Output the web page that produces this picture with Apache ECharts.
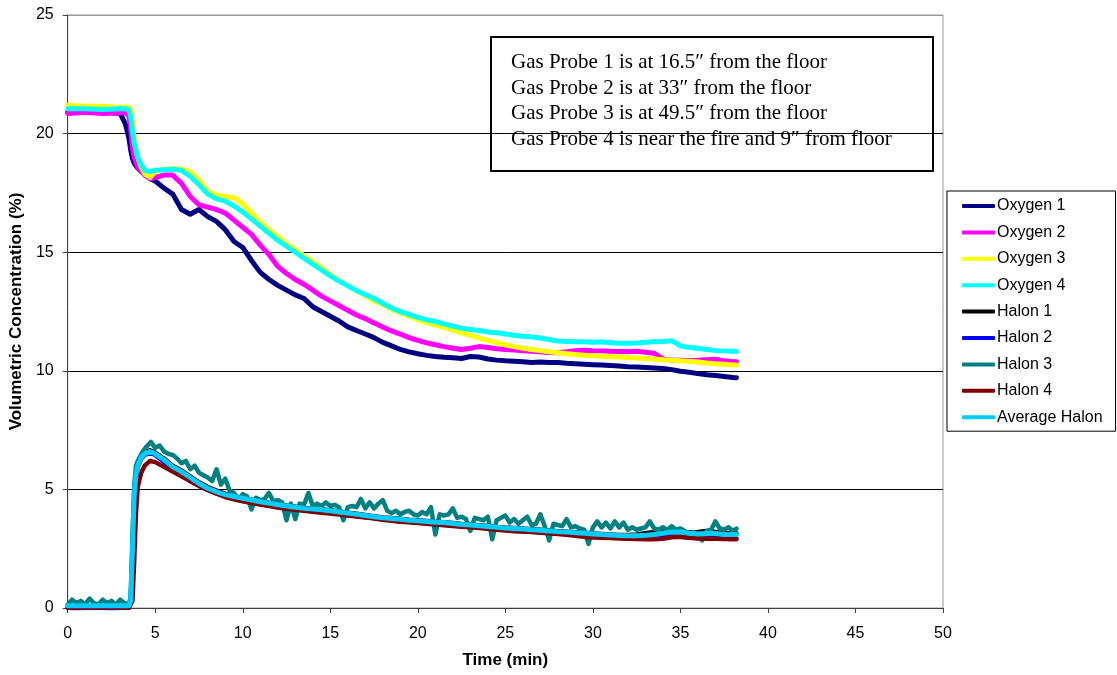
<!DOCTYPE html>
<html>
<head>
<meta charset="utf-8">
<script src="https://cdn.jsdelivr.net/npm/echarts@6/dist/echarts.min.js"></script>
<style>
html,body{margin:0;padding:0;background:#fff;}
#chart{width:1117px;height:675px;}
</style>
</head>
<body>
<div id="chart"></div>
<script>
// ---- Data (time in minutes, concentration in %) ----
var tOxygen = [0,1,2,3,3.3,3.5,3.6,3.7,3.8,4.0,4.2,4.4,4.7,
  5,5.5,6,6.5,7,7.5,8,8.5,9,9.5,10,10.5,11,11.5,12,12.5,13,13.5,14,14.5,
  15,15.5,16,16.5,17,17.5,18,18.5,19,19.5,20,20.5,21,21.5,22,22.5,23,23.5,24,24.5,
  25,25.5,26,26.5,27,27.5,28,28.5,29,29.5,30,30.5,31,31.5,32,32.5,33,33.5,34,34.5,
  35,35.5,36,36.5,37,37.5,38,38.2];

var oxygen1 = [20.9,20.9,20.92,20.85,20.4,19.8,19.3,18.95,18.75,18.55,18.4,18.3,18.1,
  18.0,17.7,17.45,16.8,16.6,16.8,16.5,16.3,15.95,15.45,15.2,14.65,14.15,13.85,13.6,13.4,13.2,13.05,12.7,12.5,
  12.3,12.1,11.85,11.7,11.55,11.4,11.2,11.05,10.9,10.8,10.72,10.65,10.6,10.57,10.55,10.52,10.6,10.58,10.5,10.45,
  10.42,10.4,10.38,10.35,10.37,10.35,10.35,10.32,10.3,10.28,10.26,10.24,10.22,10.2,10.17,10.16,10.14,10.12,10.1,10.05,
  9.98,9.94,9.88,9.83,9.8,9.76,9.72,9.71];

var oxygen2 = [20.85,20.9,20.85,20.88,20.88,20.75,20.2,19.4,19.0,18.6,18.4,18.25,18.1,
  18.15,18.25,18.25,17.9,17.35,17.0,16.9,16.8,16.65,16.35,16.05,15.75,15.3,14.9,14.4,14.1,13.85,13.65,13.4,13.15,
  12.95,12.75,12.55,12.35,12.2,12.02,11.85,11.68,11.55,11.4,11.28,11.18,11.1,11.02,10.95,10.9,10.95,11.02,10.98,10.93,
  10.9,10.88,10.85,10.82,10.8,10.77,10.76,10.8,10.85,10.87,10.85,10.84,10.82,10.81,10.8,10.82,10.78,10.74,10.5,10.45,
  10.44,10.43,10.44,10.47,10.49,10.42,10.38,10.38];

var oxygen3 = [21.2,21.15,21.15,21.1,21.12,21.1,21.0,20.5,19.8,19.0,18.6,18.3,18.15,
  18.4,18.5,18.52,18.5,18.4,18.05,17.55,17.4,17.35,17.3,17.05,16.65,16.25,15.95,15.65,15.35,15.1,14.85,14.6,14.35,
  14.05,13.8,13.6,13.38,13.17,12.95,12.8,12.6,12.45,12.3,12.15,12.03,11.93,11.83,11.72,11.6,11.5,11.38,11.28,11.18,
  11.1,11.02,10.95,10.9,10.85,10.8,10.76,10.72,10.69,10.66,10.63,10.61,10.6,10.58,10.56,10.54,10.52,10.5,10.47,10.44,
  10.42,10.4,10.37,10.33,10.3,10.28,10.25,10.24];

var oxygen4 = [21.05,21.05,21.02,21.05,21.05,21.0,20.7,20.1,19.6,19.0,18.7,18.45,18.4,
  18.45,18.48,18.5,18.45,18.2,17.85,17.45,17.25,17.15,16.95,16.7,16.4,16.1,15.8,15.5,15.25,15.0,14.75,14.5,14.25,
  14.0,13.78,13.58,13.38,13.22,13.05,12.85,12.65,12.5,12.38,12.25,12.15,12.08,11.98,11.88,11.8,11.74,11.7,11.64,11.6,
  11.55,11.5,11.46,11.43,11.38,11.32,11.26,11.24,11.22,11.22,11.2,11.22,11.18,11.16,11.16,11.17,11.2,11.22,11.24,11.27,
  11.05,10.98,10.95,10.9,10.85,10.84,10.82,10.81];

var tHalon = [0,0.5,1,1.5,2,2.5,3,3.5,3.6,3.7,3.8,3.9,4.0,4.2,4.4,4.7,
  5,5.5,6,6.5,7,7.5,8,8.5,9,9.5,10,10.5,11,11.5,12,12.5,13,13.5,14,14.5,
  15,15.5,16,16.5,17,17.5,18,18.5,19,19.5,20,20.5,21,21.5,22,22.5,23,23.5,24,24.5,
  25,25.5,26,26.5,27,27.5,28,28.5,29,29.5,30,30.5,31,31.5,32,32.5,33,33.5,34,34.5,
  35,35.5,36,36.5,37,37.5,38,38.2];

var halon1 = [0.05,0.05,0.05,0.05,0.05,0.05,0.05,0.05,0.3,2.4,4.7,5.6,6.05,6.4,6.55,6.65,
  6.55,6.3,6.0,5.8,5.55,5.3,5.1,4.95,4.82,4.72,4.64,4.57,4.5,4.44,4.38,4.32,4.27,4.22,4.19,4.16,
  4.12,4.07,4.02,3.97,3.92,3.87,3.82,3.79,3.76,3.72,3.7,3.67,3.64,3.62,3.58,3.54,3.52,3.49,3.46,3.42,
  3.39,3.37,3.35,3.32,3.3,3.27,3.24,3.22,3.19,3.17,3.14,3.12,3.1,3.08,3.08,3.1,3.15,3.2,3.24,3.22,
  3.22,3.18,3.2,3.25,3.2,3.15,3.15,3.15];

var halon2 = [0,-0.03,0,0,0,-0.03,0,0,0.2,2.2,4.5,5.5,5.95,6.3,6.45,6.55,
  6.45,6.15,5.85,5.6,5.35,5.15,4.98,4.84,4.7,4.6,4.52,4.45,4.38,4.32,4.26,4.2,4.16,4.12,4.08,4.04,
  4.0,3.96,3.92,3.88,3.84,3.79,3.74,3.7,3.66,3.63,3.6,3.57,3.54,3.51,3.48,3.45,3.42,3.39,3.36,3.32,
  3.29,3.26,3.24,3.22,3.19,3.17,3.14,3.11,3.07,3.03,3.0,2.99,2.98,2.96,2.95,2.95,2.96,3.0,3.05,3.02,
  3.0,2.97,2.95,2.94,2.94,2.93,2.92,2.92];

var halon4 = [0.02,0.02,0.02,0.02,0.02,0.02,0.02,0.02,0.02,0.3,2.0,4.0,5.1,5.7,6.0,6.2,
  6.15,5.95,5.75,5.55,5.35,5.15,4.98,4.82,4.68,4.58,4.5,4.43,4.36,4.3,4.24,4.18,4.14,4.1,4.06,4.02,
  3.98,3.94,3.9,3.86,3.82,3.77,3.72,3.68,3.64,3.61,3.58,3.55,3.52,3.49,3.46,3.43,3.4,3.37,3.34,3.3,
  3.27,3.24,3.22,3.2,3.17,3.15,3.12,3.09,3.05,3.0,2.97,2.96,2.95,2.93,2.92,2.91,2.9,2.9,2.92,2.98,
  3.0,2.96,2.93,2.92,2.92,2.91,2.9,2.9];

var averageHalon = [0.1,0.1,0.1,0.1,0.1,0.1,0.1,0.1,0.3,2.5,4.8,5.6,6.0,6.35,6.5,6.6,
  6.5,6.25,5.95,5.75,5.5,5.25,5.05,4.9,4.78,4.7,4.62,4.55,4.48,4.42,4.35,4.3,4.25,4.2,4.17,4.14,
  4.1,4.05,4.0,3.95,3.9,3.85,3.8,3.77,3.74,3.7,3.68,3.65,3.62,3.6,3.56,3.52,3.5,3.47,3.44,3.4,
  3.37,3.35,3.33,3.3,3.28,3.25,3.22,3.2,3.17,3.15,3.12,3.1,3.08,3.06,3.05,3.05,3.07,3.1,3.15,3.2,
  3.2,3.15,3.12,3.15,3.14,3.1,3.1,3.1];

var tHalon3 = [0,0.25,0.5,0.75,1,1.25,1.5,1.75,2,2.25,2.5,2.75,3,3.25,3.5,3.6,3.7,3.8,3.9,
  4,4.25,4.5,4.75, 5,5.25,5.5,5.75, 6,6.25,6.5,6.75, 7,7.25,7.5,7.75, 8,8.25,8.5,8.75, 9,9.25,9.5,9.75,
  10,10.25,10.5,10.75, 11,11.25,11.5,11.75, 12,12.25,12.5,12.75, 13,13.25,13.5,13.75, 14,14.25,14.5,14.75,
  15,15.25,15.5,15.75, 16,16.25,16.5,16.75, 17,17.25,17.5,17.75, 18,18.25,18.5,18.75, 19,19.25,19.5,19.75,
  20,20.25,20.5,20.75, 21,21.25,21.5,21.75, 22,22.25,22.5,22.75, 23,23.25,23.5,23.75, 24,24.25,24.5,24.75,
  25,25.25,25.5,25.75, 26,26.25,26.5,26.75, 27,27.25,27.5,27.75, 28,28.25,28.5,28.75, 29,29.25,29.5,29.75,
  30,30.25,30.5,30.75, 31,31.25,31.5,31.75, 32,32.25,32.5,32.75, 33,33.25,33.5,33.75, 34,34.25,34.5,34.75,
  35,35.25,35.5,35.75, 36,36.25,36.5,36.75, 37,37.25,37.5,37.75, 38,38.2];

var halon3 = [0.15,0.35,0.2,0.3,0.15,0.4,0.2,0.15,0.35,0.2,0.3,0.15,0.35,0.2,0.15,0.5,3.0,5.2,6.0,
  6.2,6.55,6.8,7.0, 6.75,6.85,6.6,6.5, 6.45,6.3,6.1,6.2, 5.85,6.0,5.7,5.6, 5.5,5.35,5.85,5.2, 5.45,4.95,4.85,4.55,
  4.8,4.7,4.15,4.65, 4.55,4.6,4.85,4.5, 4.55,4.45,3.7,4.4, 3.75,4.4,4.35,4.85, 4.3,4.4,4.3,4.45,
  4.3,4.35,4.25,3.7, 4.25,4.3,4.25,4.6, 4.2,4.45,4.2,4.4, 4.55,4.1,4.0,4.1, 3.95,4.05,4.1,3.95,
  3.9,4.05,3.95,4.25, 3.1,3.95,3.9,3.95, 4.2,3.8,3.85,3.75, 3.25,3.8,3.75,3.7, 3.85,2.9,3.7,3.8,
  3.9,3.6,3.75,3.55, 3.7,3.85,3.5,3.55, 3.95,3.45,2.85,3.55, 3.5,3.45,3.75,3.4, 3.45,3.35,3.3,2.7,
  3.4,3.65,3.4,3.6, 3.35,3.65,3.4,3.6, 3.3,3.4,3.3,3.35, 3.4,3.65,3.35,3.3, 3.4,3.3,3.45,3.3,
  3.35,3.25,3.1,3.2, 3.05,2.85,3.25,3.3, 3.65,3.35,3.3,3.4, 3.25,3.35];

var xTicks = [0,5,10,15,20,25,30,35,40,45,50];
var yTicks = [0,5,10,15,20,25];
var seriesNames = ['Oxygen 1','Oxygen 2','Oxygen 3','Oxygen 4','Halon 1','Halon 2','Halon 3','Halon 4','Average Halon'];
var noteLines = [
  'Gas Probe 1 is at 16.5\u2033 from the floor',
  'Gas Probe 2 is at 33\u2033 from the floor',
  'Gas Probe 3 is at 49.5\u2033 from the floor',
  'Gas Probe 4 is near the fire and 9\u2033 from floor'
];

// ---- Chart ----
function pairs(ts, vs){ return ts.map(function(t,i){ return [t, vs[i]]; }); }
var colors = ['#000080','#FF00FF','#FFFF00','#00FFFF','#000000','#0000FF','#008080','#800000','#00CCFF'];
var widths = [5,5,5,5,4.5,4.5,4.5,4.5,5];
var seriesSources = [
  [tOxygen, oxygen1],[tOxygen, oxygen2],[tOxygen, oxygen3],[tOxygen, oxygen4],
  [tHalon, halon1],[tHalon, halon2],[tHalon3, halon3],[tHalon, halon4],[tHalon, averageHalon]
];
var series = seriesSources.map(function(s, i){
  return {
    name: seriesNames[i], type: 'line', data: pairs(s[0], s[1]),
    showSymbol: false, symbol: 'none', smooth: false,
    lineStyle: { color: colors[i], width: widths[i], join: 'round', cap: 'round' },
    itemStyle: { color: colors[i] },
    emphasis: { disabled: true }, z: 2
  };
});

var chart = echarts.init(document.getElementById('chart'), null, {renderer: 'canvas'});
var font = "'Liberation Sans', Arial, sans-serif";
chart.setOption({
  animation: false,
  backgroundColor: '#fff',
  color: colors,
  grid: { left: 67, right: 174, top: 15, bottom: 67, show: true, borderColor: '#999', borderWidth: 1, backgroundColor: 'transparent' },
  xAxis: {
    type: 'value', min: xTicks[0], max: xTicks[xTicks.length-1], interval: 5,
    name: 'Time (min)', nameLocation: 'middle', nameGap: 44,
    nameTextStyle: { fontFamily: font, fontSize: 17, fontWeight: 'bold', color: '#000' },
    axisLine: { show: true, onZero: false, lineStyle: { color: '#404040', width: 1 } },
    axisTick: { show: true, inside: false, length: 5, lineStyle: { color: '#404040' } },
    axisLabel: { fontFamily: font, fontSize: 16, color: '#000', margin: 18 },
    splitLine: { show: false }
  },
  yAxis: {
    type: 'value', min: yTicks[0], max: yTicks[yTicks.length-1], interval: 5,
    name: 'Volumetric Concentration (%)', nameLocation: 'middle', nameGap: 33, nameRotate: 90,
    nameTextStyle: { fontFamily: font, fontSize: 17, fontWeight: 'bold', color: '#000' },
    axisLine: { show: true, onZero: false, lineStyle: { color: '#404040', width: 1 } },
    axisTick: { show: true, inside: false, length: 5, lineStyle: { color: '#404040' } },
    axisLabel: { fontFamily: font, fontSize: 16, color: '#000', margin: 14 },
    splitLine: { show: true, lineStyle: { color: ['#000','#000','#000','#000','#000','#999'], width: 1 } }
  },
  legend: {
    orient: 'vertical', left: 947, top: 191,
    data: seriesNames,
    icon: 'roundRect', itemWidth: 33, itemHeight: 4, itemGap: 10.4,
    padding: [7, 13, 6, 15],
    borderColor: '#000', borderWidth: 1, backgroundColor: '#fff',
    textStyle: { fontFamily: font, fontSize: 16, color: '#000', lineHeight: 16, padding: [0,0,0,-3] },
    selectedMode: false
  },
  graphic: [{
    type: 'group', left: 490, top: 36, z: 100,
    children: [
      { type: 'rect', shape: { x: 0, y: 0, width: 442, height: 134 }, style: { fill: '#fff', stroke: '#000', lineWidth: 2 } },
      { type: 'text', left: 20, top: 13, style: { text: noteLines.join('\n'), font: "21px 'Liberation Serif', 'Times New Roman', serif", fill: '#000', lineHeight: 25.5 } }
    ]
  }],
  series: series
});
</script>
</body>
</html>
